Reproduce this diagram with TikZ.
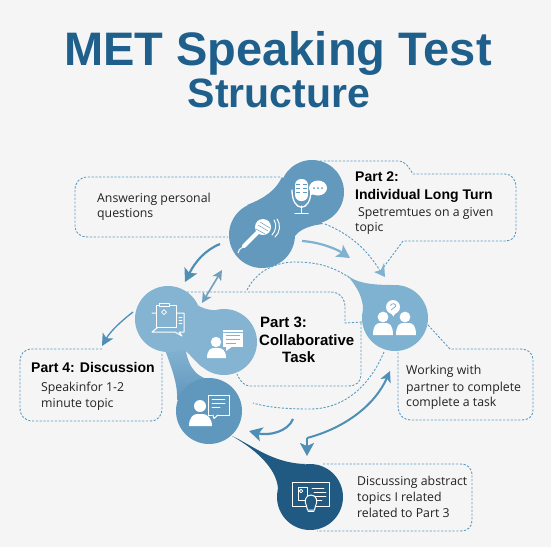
\documentclass[tikz,border=0pt]{standalone}
\usepackage{fontspec}
\setmainfont{Open Sans}
\newfontfamily\titlefont{Liberation Sans}
\newfontfamily\headfont{Liberation Sans}
\usetikzlibrary{arrows.meta}
\definecolor{bg}{HTML}{F5F5F5}
\definecolor{titleblue}{HTML}{1F5F8B}
\definecolor{dashblue}{HTML}{5B9BC2}
\definecolor{blobA}{HTML}{6399BD}
\definecolor{blobB}{HTML}{85B4D2}
\definecolor{blobC}{HTML}{5F97BD}
\definecolor{blobD}{HTML}{7FB1D1}
\definecolor{blobE}{HTML}{205A82}
\definecolor{arrowdark}{HTML}{4F8FB6}
\definecolor{arrowlight}{HTML}{7FB1D0}
\definecolor{ink}{HTML}{222222}
\tikzset{
  dashbox/.style={draw=dashblue,line width=.9pt,dash pattern=on 2.2pt off 1.6pt},
  bigarrow/.style={line width=2.2pt,-{Stealth[length=13pt,width=14pt,inset=3pt]}},
  dblarrow/.style={line width=1.6pt,{Stealth[length=10pt,width=10pt,inset=2.5pt]}-{Stealth[length=10pt,width=10pt,inset=2.5pt]}},
  bodytext/.style={anchor=base west,inner sep=0pt,font=\fontsize{12.3}{14}\selectfont,text=ink},
  headtext/.style={anchor=base west,inner sep=0pt,font=\headfont\bfseries\fontsize{14}{17}\selectfont,text=black},
  icon/.style={draw=white,line width=1pt,line join=round,line cap=round},
}
\begin{document}
\begin{tikzpicture}[x=1pt,y=-1pt]
\useasboundingbox (0,0) rectangle (551,547);
\fill[bg] (0,0) rectangle (551,547);

% title
\node[anchor=base,inner sep=0pt,font=\titlefont\bfseries\fontsize{47}{55}\selectfont,text=titleblue] (title1) at (278,65) {MET Speaking Test};
\node[anchor=base,inner sep=0pt,font=\titlefont\bfseries\fontsize{41}{45}\selectfont,text=titleblue] (title2) at (279,107) {Structure};

% dashed frames and connectors
\draw[dashbox] (280,177) -- (88,177) .. controls (80,177) and (75,182) .. (75,190) -- (75,226) .. controls (75,233) and (80,237) .. (88,237) -- (228,237);
\draw[dashbox] (320,161) -- (398,161) .. controls (406,161) and (409,168) .. (413,174) -- (505,174) .. controls (512,174) and (516,180) .. (516,187) -- (516,230) .. controls (516,237) and (512,241) .. (505,241) -- (403,241) -- (380,272);
\draw[dashbox] (325,224) .. controls (350,234) and (368,250) .. (382,274);
\draw[dashbox] (247,290) .. controls (258,268) and (280,262) .. (295,262) .. controls (320,262) and (335,268) .. (350,278);
\draw[dashbox] (187,292) -- (330,292) .. controls (340,292) and (345,298) .. (345,308) -- (345,323) -- (362,322);
\draw[dashbox] (361,323) -- (361,375) .. controls (361,382) and (356,386) .. (348,386) -- (250,386) .. controls (244,386) and (240,381) .. (237,374);
\draw[dashbox] (384,352) .. controls (370,385) and (345,409) .. (310,409) .. controls (290,409) and (270,408) .. (253,403);
\draw[dashbox] (428,325) -- (450,349) -- (520,349) .. controls (528,349) and (533,353) .. (533,360) -- (533,410) .. controls (533,416) and (529,420) .. (522,420) -- (412,420) .. controls (403,420) and (398,415) .. (398,405) -- (398,352);
\draw[dashbox] (323,464) -- (460,464) .. controls (468,464) and (472,468) .. (472,476) -- (472,520) .. controls (472,527) and (468,531) .. (460,531) -- (317,531);
\draw[dashbox] (102,349) -- (32,349) .. controls (24,349) and (20,354) .. (20,362) -- (20,408) .. controls (20,416) and (25,421) .. (33,421) -- (150,421) .. controls (158,421) and (162,416) .. (162,408) -- (162,352);

% arrowhead where the dashed lead-ins meet
\fill[arrowlight] (385,277) -- (374,272) -- (381,270) -- (384,263) -- cycle;

% blobs
\fill[blobA] (282,177) .. controls (276,190) and (265,198) .. (247,205) -- (292,242) .. controls (295,232) and (305,226) .. (323,224) -- cycle;
\fill[blobA] (312,192) circle[radius=32];
\fill[blobA] (262,235) circle[radius=33];

\shade[top color=blobB,bottom color=blobC] (163,345) .. controls (172,368) and (178,385) .. (177,400) -- (213,380) .. controls (193,378) and (187,362) .. (185,345) -- cycle;
\fill[blobB] (185,292) .. controls (192,305) and (205,312) .. (224,310) -- (202,367) .. controls (196,362) and (190,355) .. (185,350) -- (160,340) -- cycle;
\fill[blobB] (168,319) circle[radius=33];
\fill[blobB] (224,342) circle[radius=33];
\fill[blobC] (209,411) circle[radius=33];

\fill[blobD] (347,275) .. controls (355,282) and (368,285) .. (392,285) -- (363,310) .. controls (363,298) and (358,288) .. (347,275) -- cycle;
\fill[blobD] (395,318) circle[radius=33];

\fill[blobE] (232,436) .. controls (252,445) and (272,463) .. (305,464) -- (278,492) .. controls (279,472) and (260,452) .. (232,436) -- cycle;
\fill[blobE] (310,497) circle[radius=33];

% solid arrows
\coordinate (a1s) at (302,241); \coordinate (a1e) at (350,258);
\draw[bigarrow,arrowlight] (a1s) .. controls (318,242) and (335,248) .. (a1e);
\coordinate (a2s) at (220,244); \coordinate (a2e) at (185,282);
\draw[bigarrow,arrowdark] (a2s) .. controls (205,250) and (195,262) .. (a2e);
\coordinate (a3s) at (222,270); \coordinate (a3e) at (202,303);
\draw[dblarrow,arrowlight!90!black] (a3s) -- (a3e);
\coordinate (a4s) at (133,312); \coordinate (a4e) at (102,346);
\draw[line width=1.3pt,-{Stealth[length=12pt,width=12pt,inset=3pt]},arrowdark] (a4s) .. controls (120,322) and (110,332) .. (a4e);
\coordinate (a5s) at (293,419); \coordinate (a5e) at (249,431);
\draw[bigarrow,arrowdark] (a5s) .. controls (288,432) and (268,436) .. (a5e);
\coordinate (a6s) at (390,371); \coordinate (a6k) at (307,438); \coordinate (a6e) at (307,456);
\draw[line width=2pt,arrowdark,{Stealth[length=11pt,width=11pt,inset=3pt]}-] (a6s) .. controls (375,405) and (345,428) .. (a6k);
\draw[bigarrow,arrowdark] (a6k) -- (a6e);

% icon: studio microphone with bubble
\draw[icon,line width=1.3pt] (292,190) .. controls (292,213) and (311,213) .. (311,190);
\fill[white,rounded corners=6pt] (295,179) rectangle (308,201);
\draw[blobA,line width=.7pt] (296,184) -- (300,184) (296,188) -- (300,188) (296,192) -- (300,192) (303,184) -- (307,184) (303,188) -- (307,188) (303,192) -- (307,192);
\draw[icon,line width=1.5pt] (301.5,206) -- (301.5,213) (295,213.5) -- (308,213.5);
\fill[white] (318,188) ellipse[x radius=9,y radius=7.5];
\fill[white] (310,195) -- (313,189) -- (316,194) -- cycle;
\fill[blobA] (314,188) circle[radius=1] (318,188) circle[radius=1] (322,188) circle[radius=1];

% icon: hand microphone
\draw[white,line width=4pt,line cap=round] (258,232) -- (244,246);
\fill[white] (263,227) circle[radius=8];
\draw[blobA,line width=.5pt] (258,225) -- (268,231) (260,222) -- (270,228) (256,229) -- (265,234);
\draw[white,line width=1pt] (243,247) .. controls (240,249) and (238,250) .. (238,253);
\draw[icon] (274,220) .. controls (277,224) and (276,231) .. (272,235);
\draw[icon] (277,219) .. controls (281,224) and (280,233) .. (275,237);

% icon: clipboard
\draw[icon] (152,313) -- (156,313) (176,313) -- (184,313) -- (184,332) -- (179,332) -- (182,336) -- (175,332) -- (152,332) -- cycle;
\draw[icon,fill=blobB] (156,305) rectangle (176,327);
\draw[icon,fill=blobB] (159,303) rectangle (169,306);
\draw[icon,line width=.7pt] (164,309.5) -- (166.5,312) -- (164,314.5) -- (161.5,312) -- cycle;
\draw[icon,line width=.8pt] (179,317) -- (182,317) (179,320) -- (182,320) (179,323) -- (182,323);

% icon: person with note
\fill[white] (216,342) circle[radius=5.2];
\fill[white] (207,358) .. controls (207,350) and (211,348) .. (214,348) -- (218,348) .. controls (222,348) and (226,350) .. (226,358) -- cycle;
\fill[white] (223,330) rectangle (243,347);
\fill[white] (226,346) -- (233,346) -- (226,351) -- cycle;
\draw[blobB,line width=.8pt] (226,335) -- (240,335) (226,339) -- (240,339) (226,343) -- (236,343);
\draw[blobB,line width=.8pt] (223,332.5) -- (243,332.5);

% icon: person with speech bubble
\fill[white] (200,406) circle[radius=6];
\fill[white] (189,426) .. controls (189,418) and (193,414) .. (197,414) -- (203,414) .. controls (207,414) and (212,418) .. (212,426) -- cycle;
\draw[icon] (208,395) rectangle (229,415);
\fill[blobC] (212,414) -- (218,414) -- (214,418) -- cycle;
\draw[icon] (213,415) -- (214,418.5) -- (218,415);
\draw[icon,line width=.8pt] (212,399.5) -- (225,399.5) (212,403.5) -- (225,403.5) (212,407.5) -- (220,407.5);

% icon: two people with bubble
\fill[white] (383,317) circle[radius=5.4] (405,317) circle[radius=5.4];
\fill[white] (373,335) .. controls (373,326) and (376,323) .. (380,323) -- (386,323) .. controls (390,323) and (393,326) .. (393,335) -- cycle;
\fill[white] (396,335) .. controls (396,326) and (399,323) .. (403,323) -- (409,323) .. controls (413,323) and (416,326) .. (416,335) -- cycle;
\fill[white] (393,307) circle[radius=7];
\fill[white] (390,312) -- (396,312) -- (393.5,316.5) -- cycle;
\draw[blobD,line width=.8pt] (390.5,305.5) .. controls (392,302.5) and (396.5,303.5) .. (395.5,306.5) .. controls (395,308.5) and (392,307.5) .. (391,310);

% icon: card with bulb
\draw[icon] (292,482) rectangle (329,506);
\draw[icon,line width=.8pt] (298,487) rectangle (307,500);
\draw[icon,line width=.8pt] (301,491) circle[radius=1.8];
\draw[icon,line width=.8pt] (312,488) -- (324,488) (314,492) -- (326,492) (314,496) -- (326,496) (314,500) -- (322,500);
\draw[icon,fill=blobE] (306.5,506) .. controls (304,502) and (305,495) .. (311,495) .. controls (317,495) and (318,502) .. (315.5,506) -- (314.5,510) -- (307.5,510) -- cycle;
\draw[icon,line width=.8pt] (308,511.5) -- (314,511.5);

% texts
\node[bodytext] (t1a) at (97,202) {Answering personal};
\node[bodytext] (t1b) at (97,217) {questions};
\node[headtext] (p2a) at (355,181) {Part 2:};
\node[headtext] (p2b) at (355,199) {Individual Long Turn};
\node[bodytext] (t2a) at (358,216) {Spetremtues on a given};
\node[bodytext] (t2b) at (355,231) {topic};
\node[headtext,font=\headfont\bfseries\fontsize{15}{17}\selectfont] (p3a) at (260,327) {Part 3:};
\node[headtext,font=\headfont\bfseries\fontsize{15}{17}\selectfont] (p3b) at (259,345) {Collaborative};
\node[headtext,font=\headfont\bfseries\fontsize{15}{17}\selectfont] (p3c) at (282,362) {Task};
\node[headtext] (p4a) at (31,372) {Part 4: Discussion};
\node[bodytext] (t4a) at (41,391) {Speakinfor 1-2};
\node[bodytext] (t4b) at (41,407) {minute topic};
\node[bodytext] (t5a) at (406,374) {Working with};
\node[bodytext] (t5b) at (406,391) {partner to complete};
\node[bodytext] (t5c) at (406,406) {complete a task};
\node[bodytext] (t6a) at (357,485) {Discussing abstract};
\node[bodytext] (t6b) at (357,501) {topics I related};
\node[bodytext] (t6c) at (357,517) {related to Part 3};
\end{tikzpicture}
\end{document}
